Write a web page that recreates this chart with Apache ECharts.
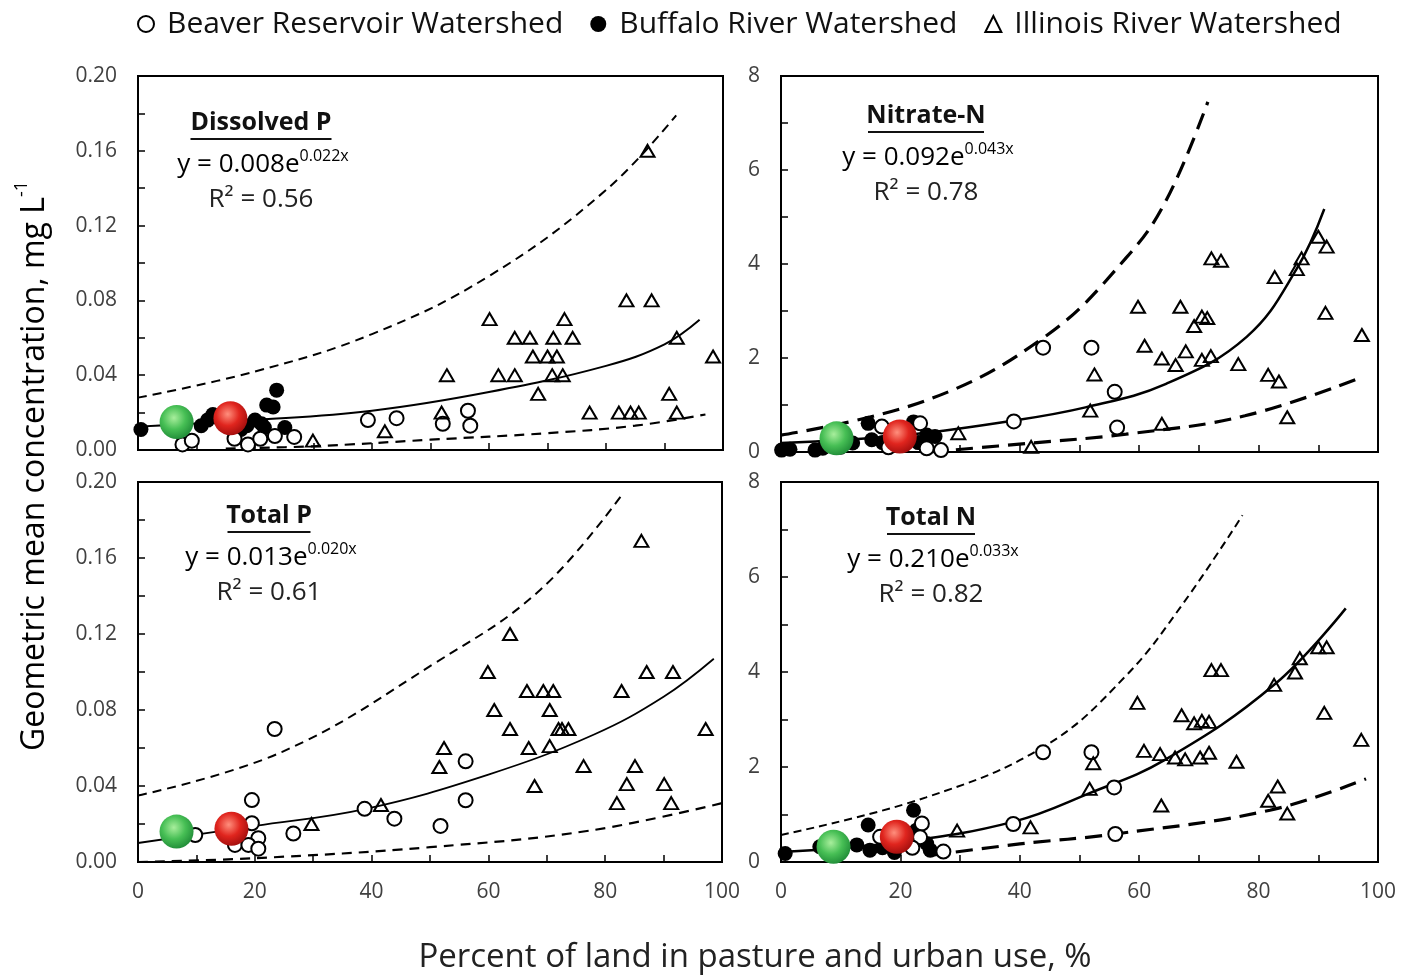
<!DOCTYPE html>
<html>
<head>
<meta charset="utf-8">
<title>Geometric mean concentration vs land use</title>
<script src="https://cdn.jsdelivr.net/npm/echarts@6/dist/echarts.min.js"></script>
<style>
  html, body { margin: 0; padding: 0; background: #fff; }
  #chart { width: 1413px; height: 977px; }
</style>
</head>
<body>
<div id="chart"></div>
<script>
// values: [percent pasture + urban, concentration mg/L]
const BEAVER = "Beaver Reservoir Watershed";
const BUFFALO = "Buffalo River Watershed";
const ILLINOIS = "Illinois River Watershed";

const xTicks = [0, 20, 40, 60, 80, 100];

// ---- Dissolved P
const dpBeaver = [[7.6,0.003],[9.2,0.005],[16.5,0.006],[18.8,0.003],[20.9,0.006],[23.4,0.0075],[26.7,0.007],
  [39.3,0.016],[44.2,0.017],[52.1,0.014],[56.4,0.021],[56.8,0.013]];
const dpBuffalo = [[0.5,0.011],[10.8,0.013],[11.9,0.016],[12.8,0.019],[13.8,0.017],[15.7,0.012],[17.6,0.011],
  [18.6,0.013],[20.0,0.016],[21.1,0.014],[22.0,0.024],[23.1,0.023],[23.7,0.032],[25.1,0.012],[21.6,0.012]];
const dpIllinois = [[87.1,0.160],[83.5,0.080],[87.8,0.080],[60.1,0.070],[72.9,0.070],[64.4,0.060],[67.0,0.060],
  [71.0,0.060],[74.3,0.060],[92.1,0.060],[67.5,0.050],[70.0,0.050],[71.6,0.050],[98.3,0.050],[52.8,0.040],
  [61.6,0.040],[64.4,0.040],[70.8,0.040],[72.6,0.040],[68.4,0.030],[90.8,0.030],[77.2,0.020],[82.2,0.020],
  [84.2,0.020],[85.6,0.020],[92.1,0.020],[51.9,0.020],[42.2,0.010],[29.9,0.005]];
const dpGreen = [[6.6,0.015]];
const dpRed = [[15.8,0.017]];
const dpFit = [[0,0.0125],[20,0.016],[40,0.021],[60,0.031],[80,0.045],[90,0.0565],[96,0.0696]];
const dpUpper = [[0,0.028],[20,0.042],[40,0.062],[60,0.093],[80,0.139],[92,0.179]];
const dpLower = [[15,0.0008],[30,0.002],[50,0.0055],[70,0.009],[85,0.013],[97,0.019]];

// ---- Nitrate-N
const noBeaver = [[43.9,2.22],[52.0,2.22],[55.9,1.28],[56.3,0.52],[39.0,0.65],[26.8,0.04],[23.3,0.61],
  [16.9,0.54],[24.4,0.08],[20.5,0.15],[18.0,0.10]];
const noBuffalo = [[0.1,0.04],[1.5,0.06],[5.7,0.04],[7.0,0.08],[10.0,0.10],[12.0,0.19],[14.6,0.61],[15.2,0.26],
  [17.0,0.20],[21.0,0.25],[22.2,0.64],[23.0,0.20],[24.4,0.36],[25.8,0.33]];
const noIllinois = [[90.0,4.58],[91.4,4.37],[87.2,4.12],[86.4,3.89],[82.7,3.72],[72.1,4.12],[73.7,4.07],
  [91.2,2.96],[97.3,2.49],[70.5,2.88],[71.4,2.85],[69.2,2.68],[59.8,3.09],[66.9,3.09],[60.9,2.26],[67.8,2.14],
  [63.8,1.99],[66.1,1.85],[70.5,1.96],[72.0,2.04],[76.6,1.87],[81.6,1.64],[83.4,1.50],[52.5,1.65],[51.8,0.88],
  [63.8,0.60],[84.8,0.74],[29.7,0.40],[41.9,0.11]];
const noGreen = [[9.3,0.29]];
const noRed = [[19.9,0.33]];
const noFit = [[0,0.19],[20,0.35],[38,0.65],[51,0.95],[64.5,1.45],[78,2.45],[86.4,3.9],[91,5.17]];
const noUpper = [[0,0.36],[24.6,1.11],[44.5,2.48],[57.8,4.13],[64.5,5.35],[71.5,7.45]];
const noLower = [[25,0],[41.9,0.19],[57.8,0.38],[77.7,0.77],[97.5,1.60]];

// ---- Total P
const tpBeaver = [[23.4,0.070],[56.1,0.053],[56.1,0.0325],[38.8,0.028],[43.9,0.0228],[51.8,0.019],[26.6,0.015],
  [19.5,0.0326],[19.5,0.0204],[20.6,0.0125],[16.6,0.009],[18.9,0.009],[20.6,0.007],[9.8,0.0142]];
const tpBuffalo = [];
const tpIllinois = [[86.2,0.169],[87.1,0.100],[91.6,0.100],[82.8,0.090],[97.2,0.070],[69.4,0.090],[71.1,0.090],
  [66.6,0.090],[70.5,0.080],[72.0,0.070],[72.6,0.070],[73.7,0.070],[70.5,0.061],[76.3,0.0505],[85.1,0.0505],
  [83.7,0.041],[90.1,0.041],[82.0,0.031],[91.3,0.031],[59.9,0.100],[63.7,0.120],[61.0,0.080],[63.7,0.070],
  [66.9,0.060],[67.9,0.040],[52.4,0.060],[51.6,0.050],[41.6,0.030],[29.7,0.020]];
const tpGreen = [[6.6,0.016]];
const tpRed = [[16.0,0.0175]];
const tpFit = [[0,0.010],[20,0.019],[39,0.028],[60,0.046],[78,0.067],[90,0.087],[98.6,0.107]];
const tpUpper = [[0,0.035],[24.7,0.058],[51,0.105],[68.8,0.143],[82.8,0.193]];
const tpLower = [[0,0],[20,0.002],[50,0.0078],[77.3,0.0165],[100,0.031]];

// ---- Total N
const tnBeaver = [[43.9,2.31],[52.0,2.31],[55.8,1.57],[56.0,0.59],[38.9,0.80],[27.2,0.22],[23.6,0.81],
  [23.3,0.52],[16.6,0.53],[22.0,0.30]];
const tnBuffalo = [[0.7,0.18],[6.5,0.32],[8.0,0.25],[12.7,0.36],[14.6,0.78],[14.9,0.25],[17.0,0.30],[19.0,0.20],
  [21.0,0.45],[22.2,1.09],[22.7,0.67],[24.4,0.39],[25.0,0.25]];
const tnIllinois = [[90.0,4.52],[91.4,4.52],[86.9,4.29],[86.1,3.99],[82.6,3.73],[72.1,4.04],[73.7,4.04],
  [91.0,3.14],[97.2,2.57],[67.1,3.09],[69.2,2.92],[70.5,2.97],[71.7,2.95],[67.7,2.16],[70.2,2.20],[71.7,2.30],
  [76.3,2.11],[81.6,1.29],[83.2,1.59],[84.8,1.02],[59.7,3.35],[60.8,2.34],[63.5,2.27],[66.0,2.20],[51.7,1.54],
  [52.3,2.08],[63.7,1.19],[41.8,0.73],[29.5,0.66]];
const tnGreen = [[8.8,0.32]];
const tnRed = [[19.4,0.53]];
const tnFit = [[0,0.21],[20,0.42],[39,0.85],[51.7,1.45],[64.3,2.15],[82.6,3.73],[94.6,5.34]];
const tnUpper = [[0,0.57],[24.3,1.36],[44.3,2.45],[57.7,3.91],[67.4,5.45],[77.3,7.30]];
const tnLower = [[25,0.14],[40,0.38],[56,0.59],[81.9,1.09],[98,1.75]];

// panel text
const panelTitles = ["Dissolved P", "Nitrate-N", "Total P", "Total N"];
const eqCoef = ["0.008", "0.092", "0.013", "0.210"];
const eqExp = ["0.022x", "0.043x", "0.020x", "0.033x"];
const r2Vals = ["0.56", "0.78", "0.61", "0.82"];

var FONT = "Open Sans";
var grids = [
  { left: 138, top: 76, width: 585, height: 374 },
  { left: 781, top: 76, width: 597, height: 376 },
  { left: 138, top: 482, width: 584, height: 380 },
  { left: 781, top: 482, width: 597, height: 380 },
];
// text anchors (centre x, title y, underline width) per panel
var anno = [[261, 123, 141], [926, 116, 116], [269, 516, 83], [931, 518, 88]];
// line styles per panel: [fit width, upper width, upper dash, lower width, lower dash]
var lineLook = [
  [2, 2, [9, 6], 2.2, [10, 7]],
  [2.5, 3.2, [17, 9], 3.2, [17, 9]],
  [1.8, 2, [9, 6], 2.2, [10, 7]],
  [2.5, 2, [8, 5], 3.2, [17, 9]],
];
var panels = [
  [dpBeaver, dpBuffalo, dpIllinois, dpGreen, dpRed, dpFit, dpUpper, dpLower],
  [noBeaver, noBuffalo, noIllinois, noGreen, noRed, noFit, noUpper, noLower],
  [tpBeaver, tpBuffalo, tpIllinois, tpGreen, tpRed, tpFit, tpUpper, tpLower],
  [tnBeaver, tnBuffalo, tnIllinois, tnGreen, tnRed, tnFit, tnUpper, tnLower],
];

var greenBall = {
  type: "radial", x: 0.42, y: 0.38, r: 0.62,
  colorStops: [{ offset: 0, color: "#a8ee9c" }, { offset: 0.55, color: "#47bf55" }, { offset: 1, color: "#23903a" }],
};
var redBall = {
  type: "radial", x: 0.42, y: 0.38, r: 0.62,
  colorStops: [{ offset: 0, color: "#ff8f7d" }, { offset: 0.55, color: "#e0251e" }, { offset: 1, color: "#a8100f" }],
};
var tickLine = { color: "#000", width: 1.5 };

var xAxes = [], yAxes = [], series = [], graphic = [];
grids.forEach(function (g, i) {
  xAxes.push({
    gridIndex: i, type: "value", min: 0, max: 100, interval: 20,
    axisLine: { show: true, onZero: false, lineStyle: { color: "#000", width: 2 } },
    axisTick: { show: true, inside: true, length: 7, lineStyle: tickLine },
    minorTick: { show: true, splitNumber: 2, length: 7, lineStyle: tickLine },
    axisLabel: {
      show: i >= 2, margin: 20, color: "#404040", fontSize: 21, fontFamily: FONT,
      customValues: xTicks,
    },
    splitLine: { show: false },
  });
  var isP = i % 2 === 0;
  yAxes.push({
    gridIndex: i, type: "value", min: 0, max: isP ? 0.2 : 8, interval: isP ? 0.04 : 2,
    axisLine: { show: true, onZero: false, lineStyle: { color: "#000", width: 2 } },
    axisTick: { show: true, inside: true, length: 7, lineStyle: tickLine },
    minorTick: { show: true, splitNumber: 2, length: 7, lineStyle: tickLine },
    axisLabel: {
      margin: 21, color: "#404040", fontSize: 21, fontFamily: FONT,
      formatter: function (v) { return isP ? v.toFixed(2) : String(v); },
    },
    splitLine: { show: false },
  });

  var p = panels[i], lk = lineLook[i];
  var ax = { xAxisIndex: i, yAxisIndex: i };
  function curve(data, width, dash) {
    return Object.assign({
      type: "line", data: data, smooth: 0.4, symbol: "none", silent: true,
      lineStyle: { color: "#000", width: width, type: dash || "solid" }, z: 2,
    }, ax);
  }
  series.push(curve(p[6], lk[1], lk[2]));
  series.push(curve(p[7], lk[3], lk[4]));
  series.push(curve(p[5], lk[0]));
  series.push(Object.assign({
    name: BUFFALO, type: "scatter", data: p[1], symbol: "circle", symbolSize: 15,
    itemStyle: { color: "#000", opacity: 1 }, z: 3,
  }, ax));
  series.push(Object.assign({
    name: BEAVER, type: "scatter", data: p[0], symbol: "circle", symbolSize: 14,
    itemStyle: { color: "#fff", borderColor: "#000", borderWidth: 2, opacity: 1 }, z: 4,
  }, ax));
  series.push(Object.assign({
    name: ILLINOIS, type: "scatter", data: p[2], symbol: "triangle", symbolSize: [14, 12],
    itemStyle: { color: "rgba(255,255,255,0)", borderColor: "#000", borderWidth: 2, opacity: 1 }, z: 4,
  }, ax));
  series.push(Object.assign({
    type: "scatter", data: p[3], symbolSize: 34, silent: true,
    itemStyle: { color: greenBall, opacity: 1 }, z: 5,
  }, ax));
  series.push(Object.assign({
    type: "scatter", data: p[4], symbolSize: 34, silent: true,
    itemStyle: { color: redBall, opacity: 1 }, z: 5,
  }, ax));

  // annotations
  var a = anno[i];
  graphic.push({
    type: "text", x: a[0], y: a[1], z: 10,
    style: { text: panelTitles[i], font: "bold 25px " + FONT, fill: "#111", align: "center", verticalAlign: "middle" },
  });
  graphic.push({
    type: "line", z: 10,
    shape: { x1: a[0] - a[2] / 2, y1: a[1] + 16, x2: a[0] + a[2] / 2, y2: a[1] + 16 },
    style: { stroke: "#111", lineWidth: 2 },
  });
  graphic.push({
    type: "text", x: a[0] + 2, y: a[1] + 40, z: 10,
    style: {
      text: "{m|y = " + eqCoef[i] + "e}{s|" + eqExp[i] + "}",
      align: "center", verticalAlign: "middle",
      rich: {
        m: { fontSize: 26, fontFamily: FONT, color: "#222", lineHeight: 30, verticalAlign: "bottom" },
        s: { fontSize: 16, fontFamily: FONT, color: "#222", lineHeight: 30, verticalAlign: "top" },
      },
    },
  });
  graphic.push({
    type: "text", x: a[0], y: a[1] + 77, z: 10,
    style: { text: "R\u00b2 = " + r2Vals[i], font: "26px " + FONT, fill: "#222", align: "center", verticalAlign: "middle" },
  });
});

graphic.push({
  type: "text", x: 32, y: 466, rotation: Math.PI / 2,
  style: {
    text: "{m|Geometric mean concentration, mg L}{s|-1}",
    align: "center", verticalAlign: "middle",
    rich: {
      m: { fontSize: 32, fontFamily: FONT, color: "#222", lineHeight: 38, verticalAlign: "bottom" },
      s: { fontSize: 18, fontFamily: FONT, color: "#222", lineHeight: 38, verticalAlign: "top" },
    },
  },
});
graphic.push({
  type: "text", x: 755, y: 958,
  style: { text: "Percent of land in pasture and urban use, %", font: "33px " + FONT, fill: "#222", align: "center", verticalAlign: "middle" },
});

var myChart = echarts.init(document.getElementById("chart"), null, { renderer: "canvas" });
var option = {
  animation: false,
  backgroundColor: "#fff",
  legend: {
    top: 4, left: 132, itemGap: 27, itemWidth: 16, itemHeight: 16,
    textStyle: { fontSize: 30, fontFamily: FONT, color: "#111", padding: [0, 0, 0, 8] },
    data: [
      { name: BEAVER, icon: "circle", itemStyle: { color: "#fff", borderColor: "#000", borderWidth: 2 } },
      { name: BUFFALO, icon: "circle", itemStyle: { color: "#000" } },
      { name: ILLINOIS, icon: "triangle", itemStyle: { color: "#fff", borderColor: "#000", borderWidth: 2 } },
    ],
  },
  grid: grids.map(function (g) {
    return Object.assign({ show: true, borderColor: "#000", borderWidth: 2, backgroundColor: "#fff" }, g);
  }),
  xAxis: xAxes,
  yAxis: yAxes,
  series: series,
  graphic: graphic,
};
myChart.setOption(option);
window.addEventListener("resize", function () {
  myChart.resize();
});
</script>
</body>
</html>
